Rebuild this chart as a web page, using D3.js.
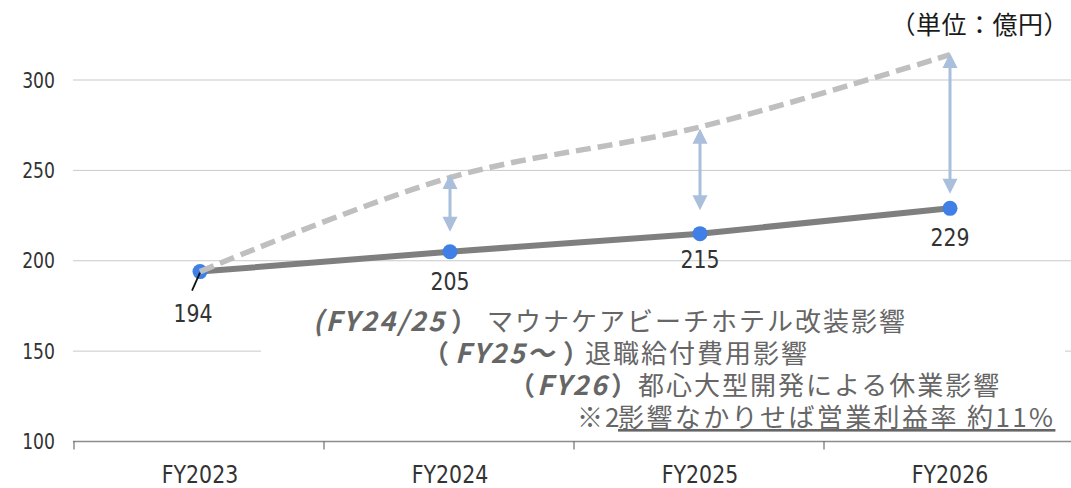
<!DOCTYPE html>
<html>
<head>
<meta charset="utf-8">
<script src="https://cdn.jsdelivr.net/npm/d3@7"></script>
<style>
  body { margin: 0; background: #fff; }
  svg { display: block; }
</style>
</head>
<body>
<div id="chart"></div>
<script>
// Chart data
const years = ["FY2023", "FY2024", "FY2025", "FY2026"];
const actual = [194, 205, 215, 229];          // solid line (plan)
const withoutImpact = [194, 246, 274, 314];   // dashed line (no impact case)
const arrowYears = ["FY2024", "FY2025", "FY2026"];
const arrowTop = [248, 273, 315];
const arrowBottom = [216, 228, 237];
const yTicks = [100, 150, 200, 250, 300];
const unitLabel = "（単位：億円）";

// annotation lines, split into styled pieces
const notes = [
  [{t: "(FY24/25", b: 1, i: 1}, {t: "）", b: 1}, {t: "マウナケアビーチホテル改装影響"}],
  [{t: "（", b: 1}, {t: "FY25～", b: 1, i: 1}, {t: "）", b: 1}, {t: "退職給付費用影響"}],
  [{t: "（", b: 1}, {t: "FY26", b: 1, i: 1}, {t: "）", b: 1}, {t: "都心大型開発による休業影響"}],
  [{t: "※2"}, {t: "影響なかりせば営業利益率 約11%", u: 1}]
];

const W = 1071, H = 488;
const svg = d3.select("#chart").append("svg")
  .attr("width", W)
  .attr("height", H);

const x = d3.scaleBand().domain(years).range([75, 1075]);
const y = d3.scaleLinear().domain([100, 300]).range([441.5, 80]);
const cx = d => x(d) + x.bandwidth() / 2;

const latin = "'DejaVu Sans', Verdana, sans-serif";
const cjk = "'Noto Sans CJK JP', 'Noto Sans', sans-serif";

// gridlines
svg.append("g").selectAll("line")
  .data(yTicks.filter(d => d > 100))
  .join("line")
  .attr("x1", 73).attr("x2", W)
  .attr("y1", d => y(d)).attr("y2", d => y(d))
  .attr("stroke", "#c9c9c9")
  .attr("stroke-width", 1);

// y tick labels
svg.append("g").selectAll("text")
  .data(yTicks)
  .join("text")
  .attr("transform", d => `translate(55,${y(d)}) scale(0.8,1)`)
  .attr("dy", "0.36em")
  .attr("text-anchor", "end")
  .style("font-family", latin)
  .style("font-size", "21.5px")
  .style("fill", "#333")
  .text(d => d);

// x axis
const xAxis = svg.append("g");
xAxis.append("line")
  .attr("x1", 73).attr("x2", W)
  .attr("y1", y(100)).attr("y2", y(100))
  .attr("stroke", "#8c8c8c")
  .attr("stroke-width", 1.5);
xAxis.selectAll("line.tick")
  .data(years)
  .join("line")
  .attr("class", "tick")
  .attr("x1", d => x(d) - 1).attr("x2", d => x(d) - 1)
  .attr("y1", y(100)).attr("y2", y(100) + 8)
  .attr("stroke", "#555")
  .attr("stroke-width", 1);
xAxis.selectAll("text")
  .data(years)
  .join("text")
  .attr("transform", d => `translate(${cx(d)},483) scale(0.82,1)`)
  .attr("text-anchor", "middle")
  .style("font-family", latin)
  .style("font-size", "25px")
  .style("fill", "#333")
  .text(d => d);

// white panel behind the notes (hides part of the 150 gridline)
svg.append("rect")
  .attr("x", 261).attr("y", 300)
  .attr("width", 804).attr("height", 136)
  .attr("fill", "#fff");

// solid line
const line = d3.line()
  .x((d, i) => cx(years[i]))
  .y(d => y(d));
svg.append("path")
  .datum(actual)
  .attr("d", line)
  .attr("fill", "none")
  .attr("stroke", "#7f7f7f")
  .attr("stroke-width", 6);

// points
svg.append("g").selectAll("circle")
  .data(actual)
  .join("circle")
  .attr("cx", (d, i) => cx(years[i]))
  .attr("cy", d => y(d))
  .attr("r", 7.5)
  .attr("fill", "#3f7fe6");

// dashed smoothed line
svg.append("path")
  .datum(withoutImpact)
  .attr("d", line.curve(d3.curveCatmullRom))
  .attr("fill", "none")
  .attr("stroke", "#bfbfbf")
  .attr("stroke-width", 5.5)
  .attr("stroke-dasharray", "15,7");

// double arrows
const arrowColor = "#a9bfdb";
const head = 15, half = 7.5;
const arrows = svg.append("g").selectAll("g")
  .data(arrowYears.map((d, i) => ({x: cx(d), y0: y(arrowTop[i]), y1: y(arrowBottom[i])})))
  .join("g");
arrows.append("line")
  .attr("x1", d => d.x).attr("x2", d => d.x)
  .attr("y1", d => d.y0 + head - 1).attr("y2", d => d.y1 - head + 1)
  .attr("stroke", arrowColor)
  .attr("stroke-width", 3);
arrows.append("path")
  .attr("d", d => `M${d.x},${d.y0} L${d.x + half},${d.y0 + head} L${d.x - half},${d.y0 + head} Z`)
  .attr("fill", arrowColor);
arrows.append("path")
  .attr("d", d => `M${d.x},${d.y1} L${d.x + half},${d.y1 - head} L${d.x - half},${d.y1 - head} Z`)
  .attr("fill", arrowColor);

// data labels
const labelDx = [-7, 0, 0, 0];
const labelDy = [50, 38, 34, 38];
svg.append("g").selectAll("text")
  .data(actual)
  .join("text")
  .attr("transform", (d, i) => `translate(${cx(years[i]) + labelDx[i]},${y(d) + labelDy[i]}) scale(0.82,1)`)
  .attr("text-anchor", "middle")
  .style("font-family", latin)
  .style("font-size", "25px")
  .style("fill", "#333")
  .text(d => d);

// leader line for the first label
svg.append("line")
  .attr("x1", cx(years[0])).attr("y1", y(actual[0]) + 1)
  .attr("x2", cx(years[0]) - 8).attr("y2", y(actual[0]) + 19)
  .attr("stroke", "#111")
  .attr("stroke-width", 1.8);

// notes: start x of each piece, baseline of each line
const segX = [[313, 451, 487], [423, 455, 563, 585], [509, 537, 611, 638], [577, 618]];
const noteY = [331, 363, 395, 427];
const noteG = svg.append("g")
  .style("font-family", cjk)
  .style("fill", "#666");
notes.forEach((segs, k) => {
  const t = noteG.append("text").attr("y", noteY[k]);
  t.selectAll("tspan")
    .data(segs)
    .join("tspan")
    .attr("x", (d, j) => segX[k][j])
    .style("font-size", d => d.i ? "27px" : "26px")
    .style("letter-spacing", d => d.i ? "2.2px" : (d.u ? "2.4px" : "2px"))
    .style("font-weight", d => d.b ? "bold" : "normal")
    .style("font-style", d => d.i ? "italic" : "normal")
    .style("text-decoration", d => d.u ? "underline" : "none")
    .text(d => d.t);
});

// unit label
svg.append("text")
  .attr("x", 1069).attr("y", 34)
  .attr("text-anchor", "end")
  .style("font-family", cjk)
  .style("font-size", "25px")
  .style("letter-spacing", "0.5px")
  .style("fill", "#1a1a1a")
  .text(unitLabel);
</script>
</body>
</html>
